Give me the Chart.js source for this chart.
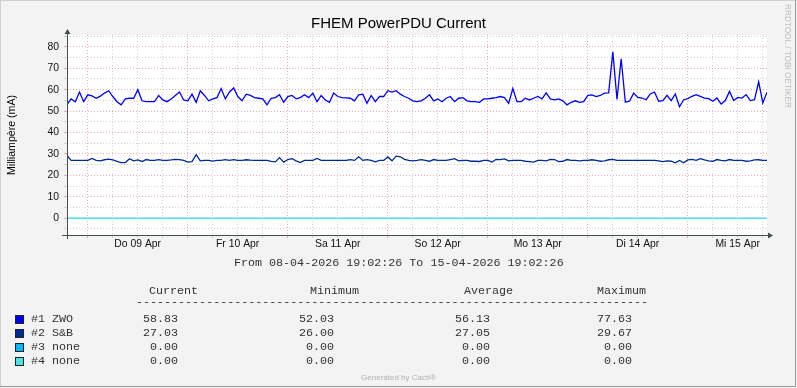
<!DOCTYPE html>
<html><head><meta charset="utf-8">
<script src="https://cdn.jsdelivr.net/npm/chart.js@4.4.0/dist/chart.umd.min.js"></script>
<style>html,body{margin:0;padding:0;background:#f3f3f3;overflow:hidden}canvas{display:block}</style>
</head><body>
<canvas id="c" width="797" height="388"></canvas>
<script>
const chartTitle = 'FHEM PowerPDU Current';
const yAxisTitle = 'Milliampère (mA)';
const rangeText = 'From 08-04-2026 19:02:26 To 15-04-2026 19:02:26';
const footerText = 'Generated by Cacti®';
const sideText = 'RRDTOOL / TOBI OETIKER';
const startClock = [19, 2, 26];
const spanHours = 168;
const stepHours = 1;
const dayLabels = ['Do 09 Apr', 'Fr 10 Apr', 'Sa 11 Apr', 'So 12 Apr', 'Mo 13 Apr', 'Di 14 Apr', 'Mi 15 Apr'];
const yTickValues = [-5, 0, 5, 10, 15, 20, 25, 30, 35, 40, 45, 50, 55, 60, 65, 70, 75, 80, 85];
const yLabelValues = [0, 10, 20, 30, 40, 50, 60, 70, 80];
const seriesNames = ['#1 ZWO', '#2 S&B', '#3 none', '#4 none'];
const seriesColors = ['#0000FF', '#002A97', '#00B4FF', '#4DE3E3'];
const statHeaders = ['Current', 'Minimum', 'Average', 'Maximum'];
const currentVals = [58.83, 27.03, 0, 0];
const minimumVals = [52.03, 26.00, 0, 0];
const averageVals = [56.13, 27.05, 0, 0];
const maximumVals = [77.63, 29.67, 0, 0];

const zwoValues = [
53.2, 55.7, 54.4, 58.9, 54.4, 57.6, 57.1, 56, 57, 58.4,
59.5, 56.8, 54.4, 52.9, 55.7, 56, 56, 60, 54.8, 54.4,
54.4, 54.4, 57.3, 55.2, 54.4, 55.6, 57.3, 58.9, 55.2, 54.8,
57.9, 54.1, 59.5, 57.3, 54.8, 55.7, 56.3, 60.5, 55.7, 58.9,
60.8, 56.8, 54.8, 57.9, 57.3, 56.3, 56, 55.7, 52.9, 56,
56.3, 57.6, 54.1, 56.8, 57.3, 55.7, 56.3, 57.6, 56.3, 58.4,
54.4, 57.3, 55.2, 54.1, 58.4, 56.8, 56.3, 56.2, 56, 54.8,
57.6, 57.9, 53.6, 57.3, 54.4, 56.8, 56.8, 59.5, 58.9, 59.5,
57.9, 56.8, 56, 54.8, 54.4, 54.8, 56, 57.6, 54.8, 55.7,
54.4, 56, 56.8, 54.4, 56, 56.3, 54.8, 54.4, 54.4, 54.1,
55.7, 55.7, 56, 56.3, 56.8, 56.3, 53.6, 60.5, 54.4, 54.4,
56, 55.2, 56, 56.8, 55.7, 58.5, 55.7, 55.2, 55.7, 54.8,
52.9, 54.1, 54.8, 54.1, 54.4, 57.3, 57.6, 56.8, 57.3, 58.4,
58.5, 77.63, 55.5, 74.4, 54.2, 54.6, 58.4, 56.4, 56.1, 55.3,
58, 58.9, 54.6, 54.9, 57.4, 54.9, 58, 52.03, 55.3, 55.8,
56.9, 57.7, 56.9, 56.1, 55.8, 54.6, 56.1, 53.3, 54.9, 59.2,
54.9, 56.4, 56.1, 57.7, 54.9, 55.3, 63.6, 53.8, 58.83
];
const sbValues = [
29.3, 27, 27, 27, 27, 27, 27.9, 27, 26.8, 27.3,
27.6, 27.2, 26.6, 26, 26, 27.8, 26.8, 27.2, 26.5, 27.4,
27, 27, 27.4, 27, 27, 27.2, 27.5, 27.4, 27, 26.2,
26.4, 29.67, 26.8, 27, 27, 26.7, 27, 27, 27.4, 27,
27.4, 27, 27, 27.3, 27.1, 27, 27, 27, 27, 26.5,
26.3, 28.3, 26.2, 27.4, 27.8, 26.8, 26, 27, 27, 27,
27.9, 27, 27, 27, 27, 27, 27, 27, 27.4, 27,
28.7, 27, 27.4, 27, 26.3, 27, 27, 28.6, 26.8, 29,
28.7, 27.5, 27, 26.8, 27, 27.4, 27, 26.6, 27.4, 27,
27, 27, 27.4, 27.8, 26.8, 27, 27, 26.6, 26.6, 26.5,
27, 27, 26.2, 27.5, 27.4, 27.7, 26.8, 27, 27, 27,
26.6, 26.4, 26.2, 27, 27, 26.8, 27.5, 27.4, 26.4, 26.6,
27.4, 27, 27, 26.8, 27, 27, 27.3, 27, 26.6, 26.8,
27.3, 27.5, 27, 27, 27, 27, 27, 27, 27, 27,
27, 27, 26.8, 26.4, 26.8, 26.6, 25.9, 27, 25.9, 27.2,
27.5, 27, 27.8, 27.2, 26.8, 26.6, 27.4, 27, 26.8, 27.4,
27, 27, 27, 26.6, 26.8, 27.2, 27.3, 27, 27.03
];
const none3Values = [
0,0,0,0,0,0,0,0,0,0, 0,0,0,0,0,0,0,0,0,0, 0,0,0,0,0,0,0,0,0,0, 0,0,0,0,0,0,0,0,0,0,
0,0,0,0,0,0,0,0,0,0, 0,0,0,0,0,0,0,0,0,0, 0,0,0,0,0,0,0,0,0,0, 0,0,0,0,0,0,0,0,0,0,
0,0,0,0,0,0,0,0,0,0, 0,0,0,0,0,0,0,0,0,0, 0,0,0,0,0,0,0,0,0,0, 0,0,0,0,0,0,0,0,0,0,
0,0,0,0,0,0,0,0,0,0, 0,0,0,0,0,0,0,0,0,0, 0,0,0,0,0,0,0,0,0,0, 0,0,0,0,0,0,0,0,0,0,
0,0,0,0,0,0,0,0,0
];
const none4Values = [
0,0,0,0,0,0,0,0,0,0, 0,0,0,0,0,0,0,0,0,0, 0,0,0,0,0,0,0,0,0,0, 0,0,0,0,0,0,0,0,0,0,
0,0,0,0,0,0,0,0,0,0, 0,0,0,0,0,0,0,0,0,0, 0,0,0,0,0,0,0,0,0,0, 0,0,0,0,0,0,0,0,0,0,
0,0,0,0,0,0,0,0,0,0, 0,0,0,0,0,0,0,0,0,0, 0,0,0,0,0,0,0,0,0,0, 0,0,0,0,0,0,0,0,0,0,
0,0,0,0,0,0,0,0,0,0, 0,0,0,0,0,0,0,0,0,0, 0,0,0,0,0,0,0,0,0,0, 0,0,0,0,0,0,0,0,0,0,
0,0,0,0,0,0,0,0,0
];
const seriesValues = [zwoValues, sbValues, none3Values, none4Values];

const MAJOR = 'rgba(238,150,150,0.8)';
const MINOR = 'rgba(205,205,205,0.9)';
const AXIS = '#3f524a';
const firstMidnight = 24 - (startClock[0] + startClock[1] / 60 + startClock[2] / 3600);

Chart.defaults.font.family = '"Liberation Sans", Arial, sans-serif';

const toPoints = vals => vals.map((v, i) => ({ x: i * stepHours, y: v }));
const datasets = [3, 2, 1, 0].map(i => ({
  label: seriesNames[i],
  data: toPoints(seriesValues[i]),
  borderColor: seriesColors[i],
  backgroundColor: seriesColors[i],
  borderWidth: 1.3,
  pointRadius: 0,
  tension: 0,
  fill: false
}));

const fmt = v => v.toFixed(2);

const deco = {
  id: 'deco',
  beforeDraw(chart) {
    const { ctx, chartArea: a } = chart;
    ctx.save();
    ctx.fillStyle = '#ffffff';
    ctx.fillRect(a.left, a.top, a.right - a.left, a.bottom - a.top);
    ctx.restore();
  },
  afterDraw(chart) {
    const { ctx, chartArea: a } = chart;
    const W = chart.width, H = chart.height;
    ctx.save();
    ctx.lineWidth = 1;
    ctx.strokeStyle = '#d0d0d0';
    ctx.beginPath(); ctx.moveTo(0, 0.5); ctx.lineTo(W - 1, 0.5); ctx.moveTo(0.5, 0); ctx.lineTo(0.5, H - 2); ctx.stroke();
    ctx.strokeStyle = '#9a9a9a';
    ctx.beginPath(); ctx.moveTo(0, H - 1.5); ctx.lineTo(W - 1, H - 1.5); ctx.moveTo(W - 1.5, 0); ctx.lineTo(W - 1.5, H - 1); ctx.stroke();

    ctx.strokeStyle = AXIS;
    ctx.fillStyle = AXIS;
    const L = Math.round(a.left) + 0.5, B = Math.round(a.bottom) + 0.5;
    ctx.beginPath();
    ctx.moveTo(L, a.bottom + 4); ctx.lineTo(L, a.top - 3);
    ctx.moveTo(a.left - 5, B); ctx.lineTo(a.right + 3, B);
    ctx.stroke();
    ctx.beginPath(); ctx.moveTo(L, a.top - 6); ctx.lineTo(L - 3, a.top - 1); ctx.lineTo(L + 3, a.top - 1); ctx.closePath(); ctx.fill();
    ctx.beginPath(); ctx.moveTo(a.right + 6, B); ctx.lineTo(a.right + 1, B - 3); ctx.lineTo(a.right + 1, B + 3); ctx.closePath(); ctx.fill();

    ctx.fillStyle = '#000';
    ctx.textAlign = 'center';
    ctx.textBaseline = 'alphabetic';
    ctx.font = '15px "Liberation Sans", Arial, sans-serif';
    ctx.fillText(chartTitle, W / 2, 28);

    ctx.save();
    ctx.translate(15, 135);
    ctx.rotate(-Math.PI / 2);
    ctx.font = '10.6px "Liberation Sans", Arial, sans-serif';
    ctx.fillText(yAxisTitle, 0, 0);
    ctx.restore();

    ctx.save();
    ctx.translate(785, 56);
    ctx.rotate(Math.PI / 2);
    ctx.fillStyle = '#bdbdbd';
    ctx.font = '8.2px "Liberation Sans", Arial, sans-serif';
    ctx.fillText(sideText, 0, 0);
    ctx.restore();

    ctx.fillStyle = '#b0b0b0';
    ctx.font = '8px "Liberation Sans", Arial, sans-serif';
    ctx.fillText(footerText, W / 2, 380);

    ctx.font = '11.7px "Liberation Mono", "DejaVu Sans Mono", monospace';
    ctx.fillStyle = '#333';
    ctx.textBaseline = 'middle';
    ctx.textAlign = 'left';
    ctx.fillText(rangeText, 234, 263);
    const headX = [149, 310, 464, 597];
    statHeaders.forEach((h, i) => ctx.fillText(h, headX[i], 291));
    ctx.fillText('-'.repeat(73), 136, 302);
    const valX = [178, 334, 490, 632];
    const cols = [currentVals, minimumVals, averageVals, maximumVals];
    seriesNames.forEach((name, r) => {
      const yc = 319 + 14 * r;
      ctx.fillStyle = seriesColors[r];
      ctx.fillRect(15, yc - 4, 9, 9);
      ctx.strokeStyle = '#222';
      ctx.lineWidth = 1;
      ctx.strokeRect(15.5, yc - 3.5, 8, 8);
      ctx.fillStyle = '#333';
      ctx.textAlign = 'left';
      ctx.fillText(name, 31, yc);
      ctx.textAlign = 'right';
      cols.forEach((col, c) => ctx.fillText(fmt(col[r]), valX[c], yc));
    });
    ctx.restore();
  }
};

new Chart(document.getElementById('c'), {
  type: 'line',
  data: { datasets },
  options: {
    responsive: false,
    animation: false,
    devicePixelRatio: 1,
    events: [],
    layout: { padding: { left: 0, right: 30, top: 35, bottom: 0 } },
    plugins: { legend: { display: false }, tooltip: { enabled: false }, title: { display: false } },
    scales: {
      x: {
        type: 'linear',
        min: 0,
        max: spanHours,
        afterBuildTicks(scale) {
          const t = [];
          for (let h = firstMidnight; h <= spanHours; h += 6) t.push({ value: h });
          scale.ticks = t;
        },
        afterFit(scale) { scale.height = 153; },
        ticks: {
          autoSkip: false,
          maxRotation: 0,
          padding: 0,
          color: '#111',
          font: { size: 10.4 },
          callback(value, index) { return index % 4 === 2 ? dayLabels[(index - 2) / 4] : ''; }
        },
        grid: {
          color: ctx => (ctx.index % 4 === 0 ? MAJOR : MINOR),
          lineWidth: 1,
          tickLength: 3,
          borderDash: [1, 2]
        },
        border: { display: false, dash: [1, 2] }
      },
      y: {
        type: 'linear',
        min: -7.8,
        max: 85.5,
        afterBuildTicks(scale) { scale.ticks = yTickValues.map(v => ({ value: v })); },
        afterFit(scale) { scale.width = 67; },
        ticks: {
          autoSkip: false,
          padding: 5,
          color: '#111',
          font: { size: 10.4 },
          callback(value) { return yLabelValues.includes(value) ? String(value) : ''; }
        },
        grid: {
          color: ctx => (ctx.tick && ctx.tick.value % 10 === 0 ? MAJOR : MINOR),
          lineWidth: 1,
          tickLength: 3,
          borderDash: [1, 2]
        },
        border: { display: false, dash: [1, 2] }
      }
    }
  },
  plugins: [deco]
});
</script>
</body></html>
